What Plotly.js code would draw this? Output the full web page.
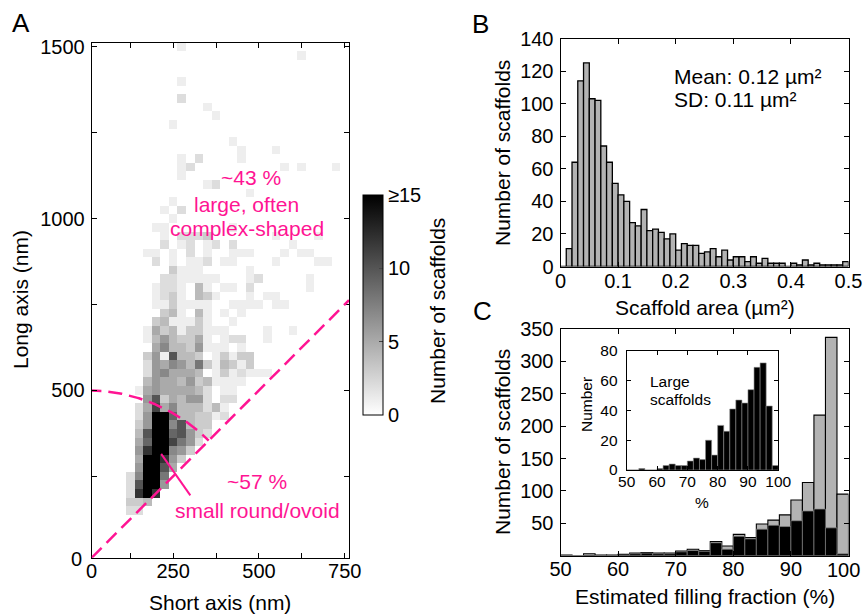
<!DOCTYPE html>
<html><head><meta charset="utf-8">
<script src="https://cdn.plot.ly/plotly-3.0.1.min.js"></script>
<style>html,body{margin:0;padding:0;background:#fff}#chart{width:864px;height:614px}</style>
</head><body><div id="chart"></div>
<script>
// ---------- Panel A: 2D histogram (bin centres in nm) ----------
const longAxisCenters = [150,175,200,225,250,275,300,325,350,375,400,425,450,475,500,525,550,575,600,625,650,675,700,725,750,775,800,825,850,875,900,925,950,975,1000,1025,1050,1075,1100,1125,1150,1175,1200,1225,1275,1300,1325,1350,1400,1475,1500];
// each row: [shortAxisCenter, count] pairs
const rowCells = [
 [[125,2],[150,2]],
 [[125,3],[150,3],[175,4]],
 [[125,2],[150,12],[175,15],[200,12]],
 [[125,2],[150,10],[175,15],[200,15],[225,6]],
 [[125,2],[150,7],[175,15],[200,15],[225,8]],
 [[150,6],[175,15],[200,15],[225,10],[250,5]],
 [[150,5],[175,15],[200,15],[225,12],[250,6],[275,3]],
 [[150,6],[175,12],[200,15],[225,15],[250,7],[275,6],[300,3]],
 [[150,5],[175,9],[200,15],[225,15],[250,11],[275,8],[300,6],[325,2]],
 [[150,4],[175,10],[200,15],[225,15],[250,9],[275,10],[300,6],[325,3],[350,2]],
 [[150,3],[175,6],[200,15],[225,15],[250,7],[275,10],[300,4],[325,3],[350,3]],
 [[150,2],[175,6],[200,15],[225,15],[250,9],[275,4],[300,4],[325,3],[350,3],[375,1],[400,2]],
 [[150,2],[175,5],[200,11],[225,5],[250,7],[275,4],[300,4],[325,4],[350,2],[375,4],[400,1]],
 [[175,6],[200,10],[225,3],[250,5],[275,4],[300,6],[325,6],[350,2],[400,2],[425,2]],
 [[150,1],[175,5],[200,6],[225,5],[250,5],[275,5],[300,5],[325,4],[350,2],[400,1],[425,1]],
 [[175,4],[200,6],[225,5],[250,5],[275,4],[300,6],[325,3],[350,4],[375,1],[400,1],[425,1],[450,1]],
 [[175,2],[200,6],[225,7],[250,5],[275,5],[300,5],[325,4],[375,1],[400,3],[425,1],[450,2],[475,1],[500,1],[525,1]],
 [[175,2],[200,6],[225,5],[250,7],[275,6],[300,4],[325,8],[350,3],[375,1],[400,4],[425,3],[450,1],[475,3]],
 [[175,3],[200,6],[225,1],[250,10],[275,4],[300,4],[325,3],[375,1],[400,3],[425,1],[450,3],[475,3]],
 [[200,5],[225,7],[250,4],[275,4],[300,3],[325,6],[350,1],[375,1],[400,1],[450,1]],
 [[175,1],[200,4],[225,6],[250,4],[275,3],[300,3],[325,5],[350,1],[400,1],[425,2],[450,2],[525,1]],
 [[175,1],[200,5],[225,3],[250,4],[275,1],[300,3],[325,3],[350,1],[375,1],[400,1],[525,1],[600,1]],
 [[200,3],[225,4],[250,1],[275,1],[300,1],[325,3],[350,1],[425,1]],
 [[225,3],[250,4],[275,1],[325,4],[350,1],[400,1],[450,1]],
 [[200,1],[225,1],[250,3],[275,1],[300,1],[325,1],[350,1],[425,1],[450,1],[475,1],[500,1],[550,1],[575,1]],
 [[200,1],[225,2],[250,3],[275,1],[325,4],[350,3],[375,1],[475,1],[525,1],[550,1]],
 [[200,1],[225,2],[250,2],[275,1],[325,4],[350,1],[400,1],[425,1],[475,2],[650,1]],
 [[225,2],[250,2],[275,1],[300,1],[325,1],[350,1],[375,1],[475,1],[500,2],[650,1]],
 [[250,3],[275,1],[300,1],[325,1],[475,1]],
 [[200,2],[250,1],[300,1],[325,1],[350,2],[400,1],[425,1],[550,1],[675,1],[700,1]],
 [[175,1],[200,1],[250,1],[300,2],[350,1],[425,1],[450,1],[475,1],[575,1],[625,1],[650,1]],
 [[225,2],[275,1],[300,2],[350,1],[375,2],[425,2],[600,1]],
 [[225,1],[275,2],[300,2],[325,2],[350,3],[550,1],[675,1]],
 [[200,1],[225,1],[425,1]],
 [[250,1]],
 [[225,1],[275,2]],
 [[250,1]],
 [[475,1]],
 [[350,1],[375,2]],
 [[275,1]],
 [[275,1],[300,2],[575,1],[625,1],[725,1]],
 [[275,1],[325,2],[450,1]],
 [[450,1],[550,1]],
 [[425,1]],
 [[250,1]],
 [[375,1]],
 [[350,1]],
 [[275,2]],
 [[275,1]],
 [[625,1]],
 [[275,1]]
];
const colorbarTicks = [0,5,10,15];
const colorbarLabels = ['0','5','10','≥15'];

// ---------- Panel B: scaffold area histogram ----------
const areaBinLeft = [0,0.01,0.02,0.03,0.04,0.05,0.06,0.07,0.08,0.09,0.10,0.11,0.12,0.13,0.14,0.15,0.16,0.17,0.18,0.19,0.20,0.21,0.22,0.23,0.24,0.25,0.26,0.27,0.28,0.29,0.30,0.31,0.32,0.33,0.34,0.35,0.36,0.37,0.38,0.39,0.40,0.41,0.42,0.43,0.44,0.45,0.46,0.47,0.48,0.49];
const areaCounts = [0,11,64,114,125,103,102,74,64,51,44,40,27,25,35,22,23,21,17,20,10,14,13,13,8,9,11,6,10,4,6,6,3,6,2,5,2,2,2,0,2,1,4,1,2,1,1,1,1,3];

// ---------- Panel C: filling fraction ----------
const fillBinLeft = [50,52,54,56,58,60,62,64,66,68,70,72,74,76,78,80,82,84,86,88,90,92,94,96,98];
const allCounts   = [1,0,3,1,1,2,4,5,4,4,7,10,8,22,15,33,28,49,55,63,86,113,217,337,95];
const largeCounts = [0,0,1,0,0,1,3,4,3,3,6,8,7,20,10,30,26,41,47,45,54,69,72,43,3];

// ---------- build ----------
const NX = 30, NY = 60; // centres 25..750, 25..1500
const z = [];
for (let r = 0; r < NY; r++) z.push(new Array(NX).fill(null));
longAxisCenters.forEach((yc, i) => {
  rowCells[i].forEach(([xc, c]) => {
    const col = Math.round(xc / 25) - 1, row = Math.round(yc / 25) - 1;
    z[row][col] = c;
  });
});

const PINK = '#ff1493';
const FONT = 'Liberation Sans, Arial, Helvetica, sans-serif';
const TICK = 20, TITLE = 21, INSET = 15.5;
const W = 864, H = 614;
const px = v => v / W, py = v => 1 - v / H;
const f = (s, c) => ({size: s, family: FONT, color: c || '#000'});

// reference arc (radius 500 nm, 90deg -> 45deg)
const arcX = [], arcY = [];
for (let a = 90; a >= 45; a -= 0.5) { arcX.push(500 * Math.cos(a * Math.PI / 180)); arcY.push(500 * Math.sin(a * Math.PI / 180)); }

const traces = [
  {type: 'heatmap', z: z, x0: 25, dx: 25, y0: 25, dy: 25, xaxis: 'x', yaxis: 'y',
   zmin: 0, zmax: 15, colorscale: [[0, '#ffffff'], [1, '#000000']], hoverinfo: 'skip',
   colorbar: {x: px(363), xanchor: 'left', xref: 'paper', y: py(305), yanchor: 'middle', yref: 'paper',
     len: 220 / H, lenmode: 'fraction', thickness: 20, thicknessmode: 'pixels', xpad: 0, ypad: 0,
     outlinewidth: 1, outlinecolor: '#000', tickvals: colorbarTicks, ticktext: colorbarLabels,
     ticks: 'inside', ticklen: 4, tickcolor: '#444', tickfont: f(TICK)}},
  {type: 'scatter', mode: 'lines', x: arcX, y: arcY, xaxis: 'x', yaxis: 'y', hoverinfo: 'skip',
   line: {color: PINK, width: 2.5, dash: '14px,7px'}, showlegend: false},
  {type: 'bar', x: areaBinLeft, y: areaCounts, offset: 0, width: 0.01, xaxis: 'x2', yaxis: 'y2',
   marker: {color: '#b3b3b3', line: {color: '#000', width: 1.3}}, showlegend: false, hoverinfo: 'skip'},
  {type: 'bar', x: fillBinLeft, y: allCounts, offset: 0, width: 2, xaxis: 'x3', yaxis: 'y3',
   marker: {color: '#b3b3b3', line: {color: '#000', width: 1.1}}, showlegend: false, hoverinfo: 'skip'},
  {type: 'bar', x: fillBinLeft, y: largeCounts, offset: 0, width: 2, xaxis: 'x3', yaxis: 'y3',
   marker: {color: '#000', line: {color: '#8a8a8a', width: 0.7}}, showlegend: false, hoverinfo: 'skip'},
  {type: 'bar', x: fillBinLeft, y: largeCounts, offset: 0, width: 2, xaxis: 'x4', yaxis: 'y4',
   marker: {color: '#000', line: {color: '#8a8a8a', width: 0.6}}, showlegend: false, hoverinfo: 'skip'}
];

const ax = (o) => Object.assign({showline: true, linecolor: '#000', linewidth: 1, mirror: 'ticks',
  ticks: 'inside', ticklen: 5, tickwidth: 1, tickcolor: '#000', showgrid: false, zeroline: false,
  tickfont: f(TICK), fixedrange: true, ticklabelstandoff: 2}, o);

const ann = (text, x, y, o) => Object.assign({text: text, x: px(x), y: py(y), xref: 'paper', yref: 'paper',
  showarrow: false, xanchor: 'center', yanchor: 'middle', font: f(TITLE)}, o || {});

const layout = {
  width: W, height: H, margin: {l: 0, r: 0, t: 0, b: 0}, paper_bgcolor: '#fff', plot_bgcolor: 'rgba(0,0,0,0)',
  font: {family: FONT, color: '#000'}, showlegend: false, barmode: 'overlay', bargap: 0,
  xaxis: ax({domain: [px(91.7), px(349)], range: [12.5, 762.5], anchor: 'y', ticklabelstandoff: -5,
    tickvals: [0,125,250,375,500,625,750], ticktext: ['0','','250','','500','','750']}),
  yaxis: ax({domain: [py(557.7), py(42.7)], range: [12.5, 1512.5], anchor: 'x',
    tickvals: [0,250,500,750,1000,1250,1500], ticktext: ['0','','500','','1000','','1500']}),
  xaxis2: ax({domain: [px(560.5), px(848.5)], range: [0, 0.5], anchor: 'y2', ticklabelstandoff: -4,
    tickvals: [0,0.1,0.2,0.3,0.4,0.5], ticktext: ['0','0.1','0.2','0.3','0.4','0.5']}),
  yaxis2: ax({domain: [py(266.5), py(38.5)], range: [0, 140], anchor: 'x2', tickvals: [0,20,40,60,80,100,120,140]}),
  xaxis3: ax({domain: [px(560.5), px(848.5)], range: [50, 100], anchor: 'y3', ticklabelstandoff: -5,
    tickvals: [50,60,70,80,90,100], ticktext: ['50','60','70','80','90','']}),
  yaxis3: ax({domain: [py(555.7), py(329)], range: [0, 350], anchor: 'x3',
    tickvals: [0,50,100,150,200,250,300,350], ticktext: ['','50','100','150','200','250','300','350']}),
  xaxis4: ax({domain: [px(626.7), px(778.3)], range: [50, 100], anchor: 'y4', tickvals: [50,60,70,80,90,100],
    ticklen: 4, tickfont: f(INSET), ticklabelstandoff: -3}),
  yaxis4: ax({domain: [py(470), py(351)], range: [0, 80], anchor: 'x4', tickvals: [0,20,40,60,80],
    ticklen: 4, tickfont: f(INSET), ticklabelstandoff: 5}),
  shapes: [
    {type: 'line', xref: 'x', yref: 'y', x0: 12.5, y0: 12.5, x1: 762.5, y1: 762.5,
     line: {color: PINK, width: 2.5, dash: '14px,7px'}},
    {type: 'line', xref: 'x', yref: 'y', x0: 215, y0: 315, x1: 300, y1: 194,
     line: {color: PINK, width: 2}}
  ],
  annotations: [
    ann('A', 21, 23, {font: f(26)}),
    ann('B', 481, 24, {font: f(26)}),
    ann('C', 482, 311, {font: f(26)}),
    ann('0', 91, 571, {font: f(TICK)}),
    ann('0', 84, 559, {xanchor: 'right', font: f(TICK)}),
    ann('100', 862, 570, {xanchor: 'right', font: f(TICK)}),
    ann('Number of scaffolds', 437, 311, {textangle: -90}),
    ann('Short axis (nm)', 220, 602),
    ann('Long axis (nm)', 20, 300, {textangle: -90}),
    ann('Scaffold area (µm²)', 704.5, 307),
    ann('Number of scaffolds', 502, 153, {textangle: -90}),
    ann('Estimated filling fraction (%)', 704.5, 596),
    ann('Number of scaffolds', 502, 442, {textangle: -90}),
    ann('Number', 586, 405, {textangle: -90, font: f(INSET)}),
    ann('%', 702, 502, {font: f(INSET)}),
    ann('Large', 648, 381, {xanchor: 'left', font: f(INSET)}),
    ann('scaffolds', 648, 399, {xanchor: 'left', font: f(INSET)}),
    ann('Mean: 0.12 µm²', 672, 76, {xanchor: 'left', font: f(21)}),
    ann('SD: 0.11 µm²', 672, 100, {xanchor: 'left', font: f(21)}),
    ann('~43 %', 251, 177, {font: f(21, PINK)}),
    ann('large, often', 246, 205, {font: f(21, PINK)}),
    ann('complex-shaped', 247.5, 228.3, {font: f(21, PINK)}),
    ann('~57 %', 256.5, 481.7, {font: f(21, PINK)}),
    ann('small round/ovoid', 257.5, 510, {font: f(21, PINK)})
  ]
};

Plotly.newPlot('chart', traces, layout, {displayModeBar: false, staticPlot: true});
</script>
</body></html>
